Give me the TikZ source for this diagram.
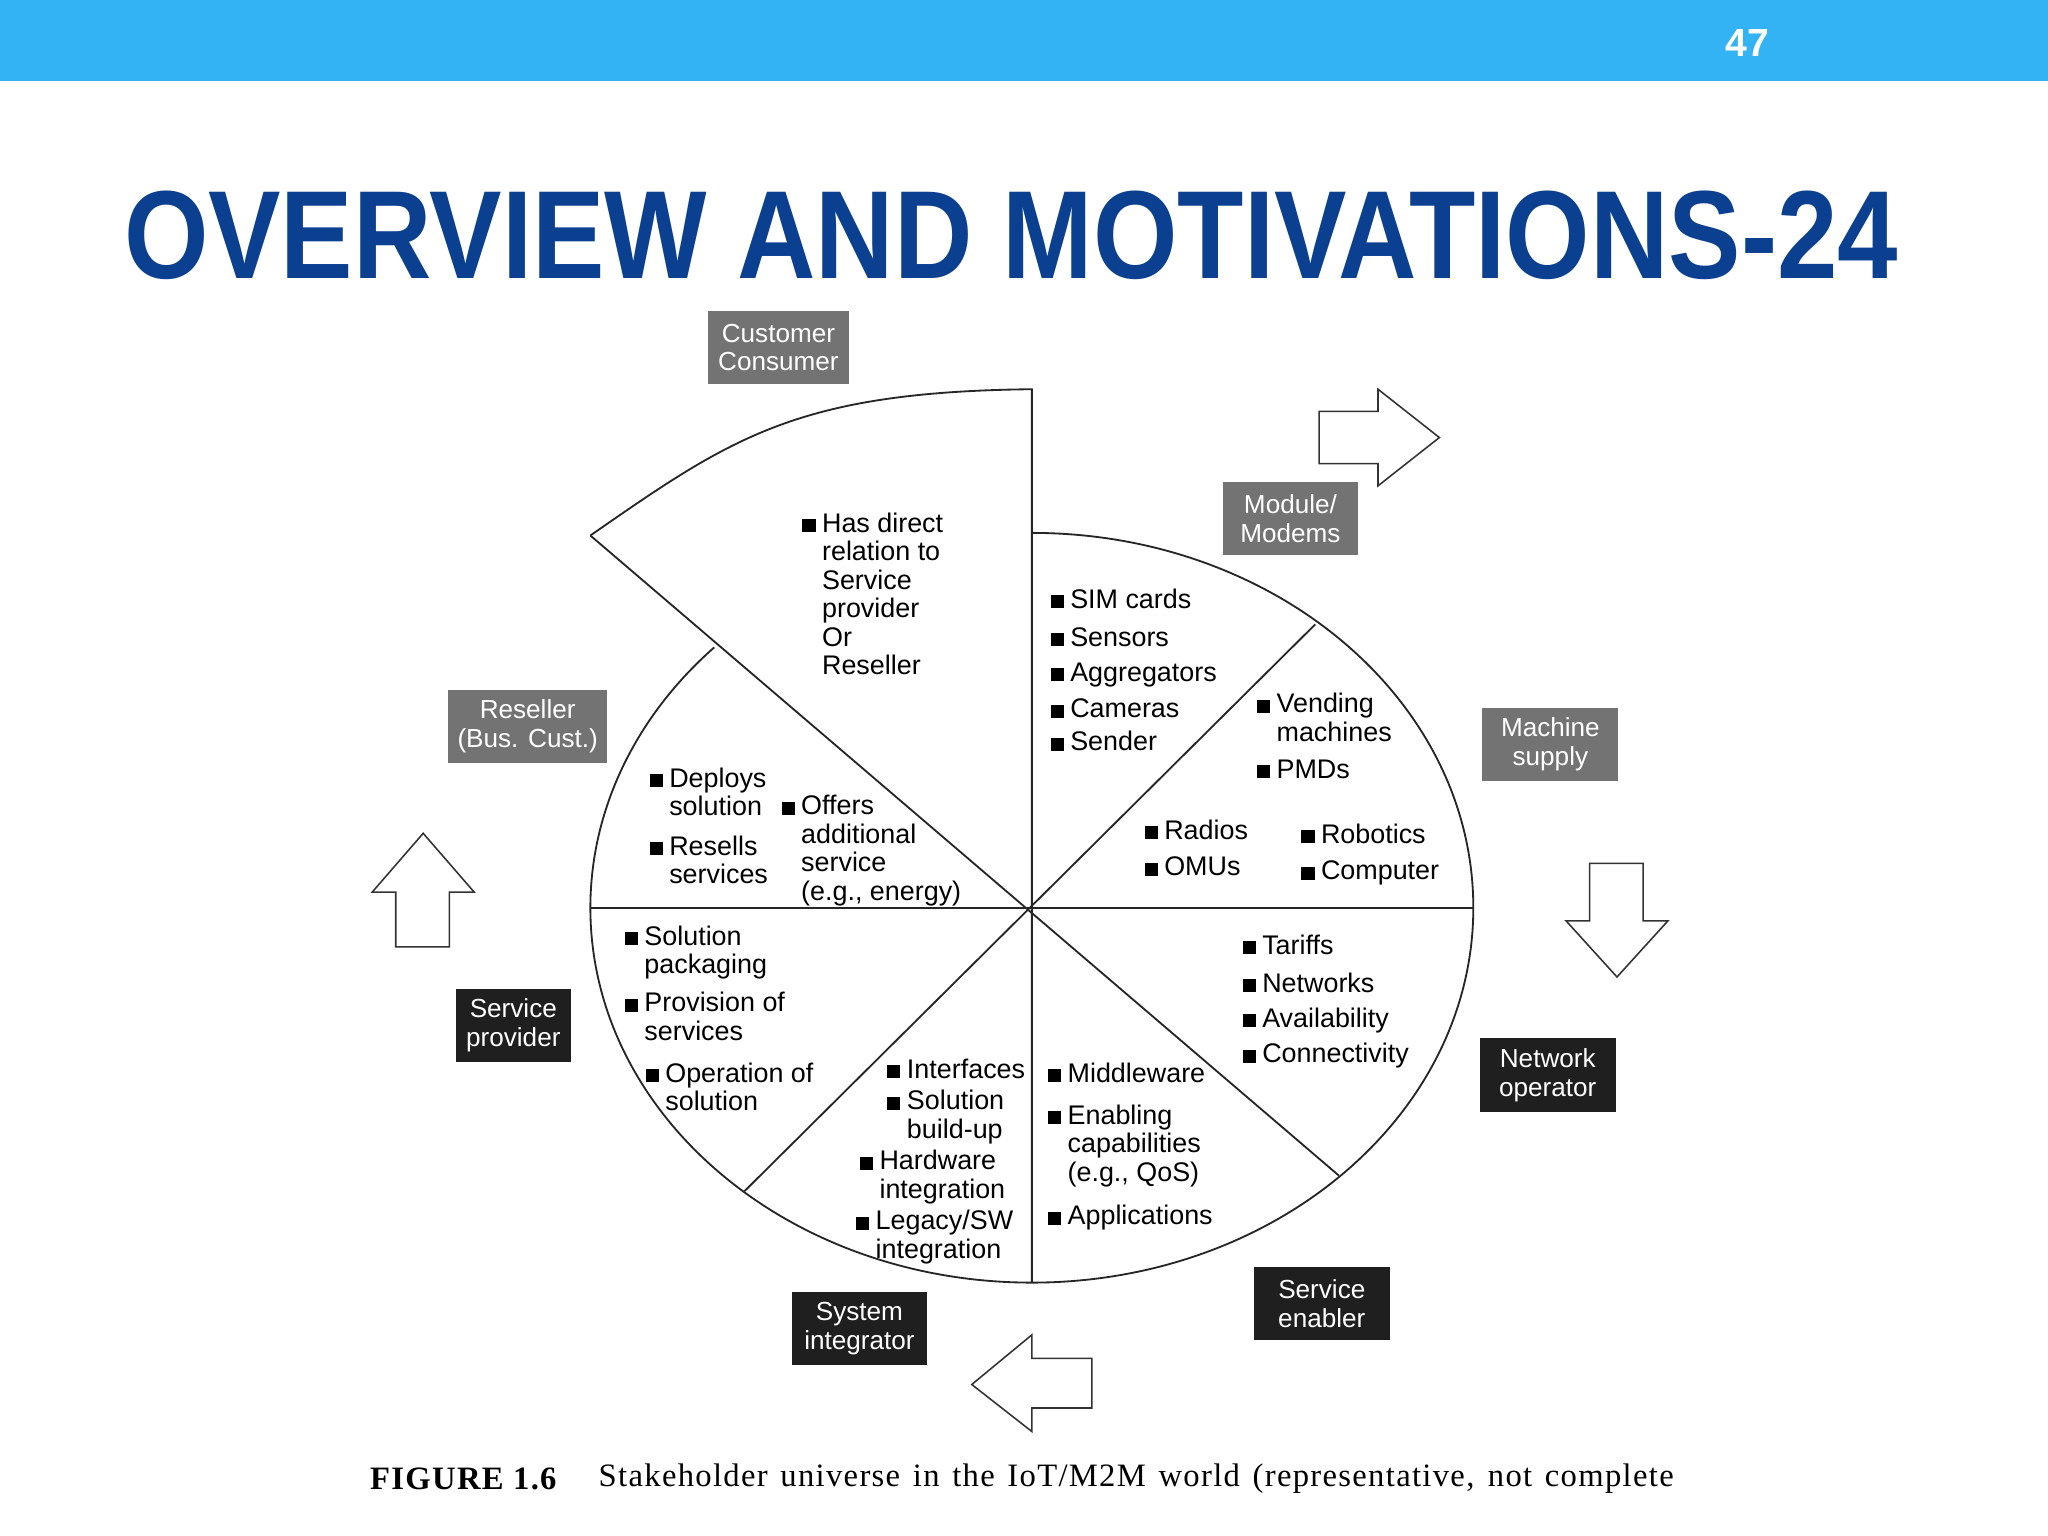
\documentclass[tikz,border=0pt]{standalone}
\usepackage{fontspec}
\setmainfont{Liberation Sans}
\newfontfamily\serifx{Liberation Serif}[LetterSpace=4]
\definecolor{barblue}{HTML}{33B3F3}
\definecolor{titleblue}{HTML}{0B3F8F}
\definecolor{boxgray}{HTML}{737373}
\newcommand\bsq{\rule{5pt}{5pt}}
\newcommand\blist[1]{\begin{tabular}{@{}l@{\hspace{2.5pt}}l@{}}#1\end{tabular}}
\tikzset{
  itm/.style={anchor=north west,inner sep=0pt,font=\fontsize{10.3}{10.9}\selectfont},
  gbox/.style={fill=boxgray,text=white,align=center,inner sep=3pt,font=\fontsize{10}{11}\selectfont},
  kbox/.style={fill=black!88,text=white,align=center,inner sep=3pt,font=\fontsize{10}{11}\selectfont},
  blk/.style={draw=black!80,line width=0.6pt,fill=white,line join=miter},
  pie/.style={draw=black!85,line width=0.7pt}
}
\begin{document}
\begin{tikzpicture}[x=0.5pt,y=0.5pt,yscale=-1]
\useasboundingbox (0,0) rectangle (1568,1176);
\fill[white] (0,0) rectangle (1568,1176);
\fill[barblue] (0,0) rectangle (1568,62);
\node[text=white,font=\bfseries\fontsize{15}{15}\selectfont] (pg) at (1338,33) {47};
\node[text=titleblue,font=\bfseries\fontsize{48}{48}\selectfont,inner sep=0pt] (title) at (774,180) {\scalebox{0.866}[1]{OVERVIEW AND MOTIVATIONS-24}};
% pie
\coordinate (c) at (790,695);
\draw[pie] (790,408) arc[start angle=270,end angle=584,x radius=338,y radius=287];
\draw[pie] (452,410) .. controls (560,335) and (610,300) .. (790,298) -- (790,982);
\draw[pie] (452,695) -- (1128,695);
\draw[pie] (452,410) -- (1025,900);
\draw[pie] (570,912) -- (1007,478);
% block arrows
\draw[blk] (1010,315) -- (1055,315) -- (1055,298) -- (1102,335) -- (1055,372) -- (1055,355) -- (1010,355) -- cycle;
\draw[blk] (1217,661) -- (1258,661) -- (1258,705) -- (1277,705) -- (1238,748) -- (1199,705) -- (1217,705) -- cycle;
\draw[blk] (836,1040) -- (790,1040) -- (790,1022) -- (744,1060) -- (790,1096) -- (790,1078) -- (836,1078) -- cycle;
\draw[blk] (303,725) -- (303,683) -- (285,683) -- (324,638) -- (363,683) -- (344,683) -- (344,725) -- cycle;
% label boxes
\node[gbox,minimum width=54pt,minimum height=28pt] (cust) at (596,266) {Customer\\Consumer};
\node[gbox,minimum width=52pt,minimum height=28pt] (mod) at (988,397) {Module/\\Modems};
\node[gbox,minimum width=61pt,minimum height=28pt] (res) at (404,556) {Reseller\\(Bus. Cust.)};
\node[gbox,minimum width=52pt,minimum height=28pt] (mach) at (1187,570) {Machine\\supply};
\node[kbox,minimum width=44pt,minimum height=28pt] (sp) at (393,785) {Service\\provider};
\node[kbox,minimum width=52pt,minimum height=28pt] (no) at (1185,823) {Network\\operator};
\node[kbox,minimum width=52pt,minimum height=28pt] (se) at (1012,998) {Service\\enabler};
\node[kbox,minimum width=52pt,minimum height=28pt] (si) at (658,1017) {System\\integrator};
% items
\node[itm] (i1) at (614,392) {\blist{\bsq&Has direct\\&relation to\\&Service\\&provider\\&Or\\&Reseller}};
\node[itm] (i2) at (804,450) {\blist{\bsq&SIM cards}};
\node[itm] (i3) at (804,479) {\blist{\bsq&Sensors}};
\node[itm] (i4) at (804,506) {\blist{\bsq&Aggregators}};
\node[itm] (i5) at (804,534) {\blist{\bsq&Cameras}};
\node[itm] (i6) at (804,559) {\blist{\bsq&Sender}};
\node[itm] (i7) at (962,530) {\blist{\bsq&Vending\\&machines}};
\node[itm] (i8) at (962,580) {\blist{\bsq&PMDs}};
\node[itm] (i9) at (876,627) {\blist{\bsq&Radios}};
\node[itm] (i10) at (876,655) {\blist{\bsq&OMUs}};
\node[itm] (i11) at (996,630) {\blist{\bsq&Robotics}};
\node[itm] (i12) at (996,658) {\blist{\bsq&Computer}};
\node[itm] (i13) at (497,587) {\blist{\bsq&Deploys\\&solution}};
\node[itm] (i14) at (497,639) {\blist{\bsq&Resells\\&services}};
\node[itm] (i15) at (598,608) {\blist{\bsq&Offers\\&additional\\&service\\&(e.g., energy)}};
\node[itm] (i16) at (478,708) {\blist{\bsq&Solution\\&packaging}};
\node[itm] (i17) at (478,759) {\blist{\bsq&Provision of\\&services}};
\node[itm] (i18) at (494,813) {\blist{\bsq&Operation of\\&solution}};
\node[itm] (i19) at (679,810) {\blist{\bsq&Interfaces}};
\node[itm] (i20) at (679,834) {\blist{\bsq&Solution\\&build-up}};
\node[itm] (i21) at (658,880) {\blist{\bsq&Hardware\\&integration}};
\node[itm] (i22) at (655,926) {\blist{\bsq&Legacy/SW\\&integration}};
\node[itm] (i23) at (802,813) {\blist{\bsq&Middleware}};
\node[itm] (i24) at (802,845) {\blist{\bsq&Enabling\\&capabilities\\&(e.g., QoS)}};
\node[itm] (i25) at (802,922) {\blist{\bsq&Applications}};
\node[itm] (i26) at (951,715) {\blist{\bsq&Tariffs}};
\node[itm] (i27) at (951,744) {\blist{\bsq&Networks}};
\node[itm] (i28) at (951,771) {\blist{\bsq&Availability}};
\node[itm] (i29) at (951,798) {\blist{\bsq&Connectivity}};
% caption
\node[anchor=west,inner sep=0pt,font=\serifx\bfseries\fontsize{12.5}{13}\selectfont] (fig) at (283,1132) {FIGURE 1.6};
\node[anchor=west,inner sep=0pt,font=\serifx\fontsize{12.5}{13}\selectfont] (cap) at (458,1132) {\makebox[411.5pt][s]{Stakeholder universe in the IoT/M2M world (representative, not complete}};
\end{tikzpicture}
\end{document}
